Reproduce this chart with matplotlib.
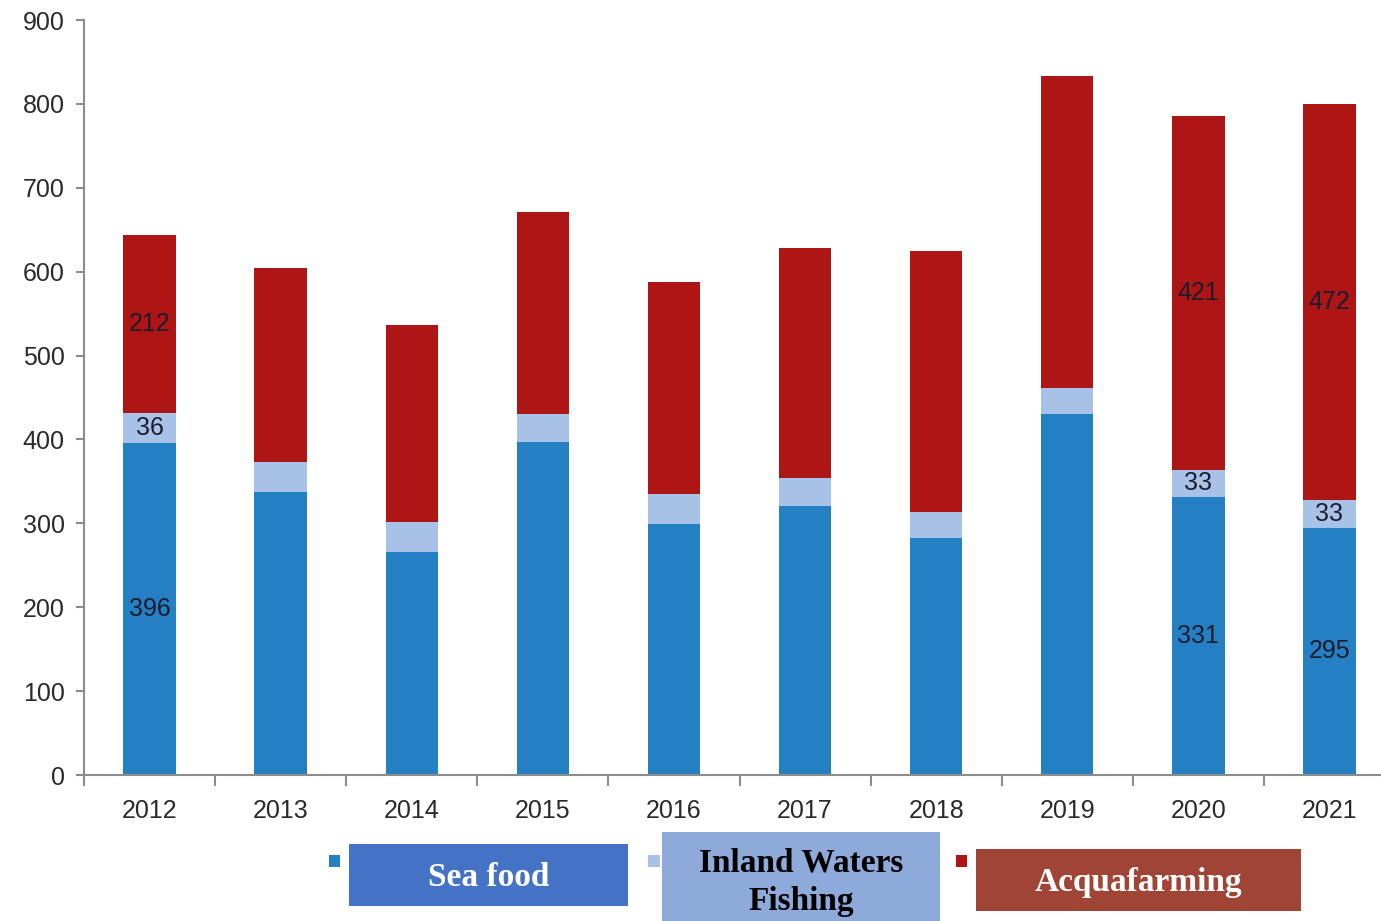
import numpy as np
import matplotlib.pyplot as plt
from matplotlib.patches import Rectangle

years = ['2012', '2013', '2014', '2015', '2016', '2017', '2018', '2019', '2020', '2021']
sea_food = [396, 337, 266, 397, 299, 321, 282, 430, 331, 295]
inland = [36, 36, 36, 33, 36, 33, 31, 31, 33, 33]
aqua = [212, 231, 234, 241, 253, 274, 312, 372, 421, 472]
labelled = ['2012', '2020', '2021']

c_sea = '#2580C3'
c_inl = '#A8C1E6'
c_aqu = '#AE1616'

W, H = 1381, 921
fig = plt.figure(figsize=(W / 100, H / 100), dpi=100)

# axes extends a bit past the right edge, like the cropped original
ax = fig.add_axes([84 / W, 146 / H, 1311 / W, 755 / H])

x = np.arange(len(years))
sea = np.array(sea_food)
inl = np.array(inland)
aq = np.array(aqua)
bw = 0.40
ax.bar(x, sea, bw, color=c_sea)
ax.bar(x, inl, bw, bottom=sea, color=c_inl)
ax.bar(x, aq, bw, bottom=sea + inl, color=c_aqu)

lab_font = dict(fontsize=18, family='Liberation Sans', color='#1c1c2c', ha='center', va='center')
for i, yr in enumerate(years):
    if yr in labelled:
        ax.text(i, sea[i] / 2, str(sea[i]), **lab_font)
        ax.text(i, sea[i] + inl[i] / 2, str(inl[i]), **lab_font)
        ax.text(i, sea[i] + inl[i] + aq[i] / 2, str(aq[i]), **lab_font)

ax.set_xlim(-0.5, len(years) - 0.5)
ax.set_ylim(0, 900)
ax.set_yticks(range(0, 901, 100))
ax.set_xticks(x)
ax.set_xticklabels(years)
ax.set_xticks(np.arange(-0.5, len(years), 1), minor=True)
for s in ['top', 'right']:
    ax.spines[s].set_visible(False)
for s in ['left', 'bottom']:
    ax.spines[s].set_color('#8c8c8c')
    ax.spines[s].set_linewidth(1.5)
ax.tick_params(axis='x', which='major', length=0, pad=17)
ax.tick_params(axis='x', which='minor', length=8, width=1.5, color='#8c8c8c')
ax.tick_params(axis='y', length=6, width=1.5, color='#8c8c8c', pad=8)
for t in ax.get_xticklabels() + ax.get_yticklabels():
    t.set_fontsize(18)
    t.set_family('Liberation Sans')
    t.set_color('#2a2a2a')


def px_rect(x0, y0, x1, y1, color):
    # rectangle given in image pixel coords (top-left origin)
    r = Rectangle((x0 / W, 1 - y1 / H), (x1 - x0) / W, (y1 - y0) / H,
                  transform=fig.transFigure, facecolor=color, edgecolor='none')
    fig.patches.append(r)


# small legend squares
px_rect(329, 855, 340, 867, c_sea)
px_rect(648, 855, 660, 867, c_inl)
px_rect(956, 855, 967, 867, c_aqu)

# label boxes over the legend
px_rect(349, 844, 628, 906, '#4472C4')
px_rect(662, 832, 940, 921, '#8EAADB')
px_rect(976, 849, 1301, 911, '#A04535')

box_font = dict(family='Liberation Serif', weight='bold', fontsize=24, ha='center', va='center')
fig.text(488.5 / W, 1 - 877 / H, 'Sea food', color='white', **box_font)
fig.text(801 / W, 1 - 882 / H, 'Inland Waters\nFishing', color='black', linespacing=1.3, **box_font)
fig.text(1138.5 / W, 1 - 882 / H, 'Acquafarming', color='white', **box_font)

fig.savefig('out.png', dpi=100)
